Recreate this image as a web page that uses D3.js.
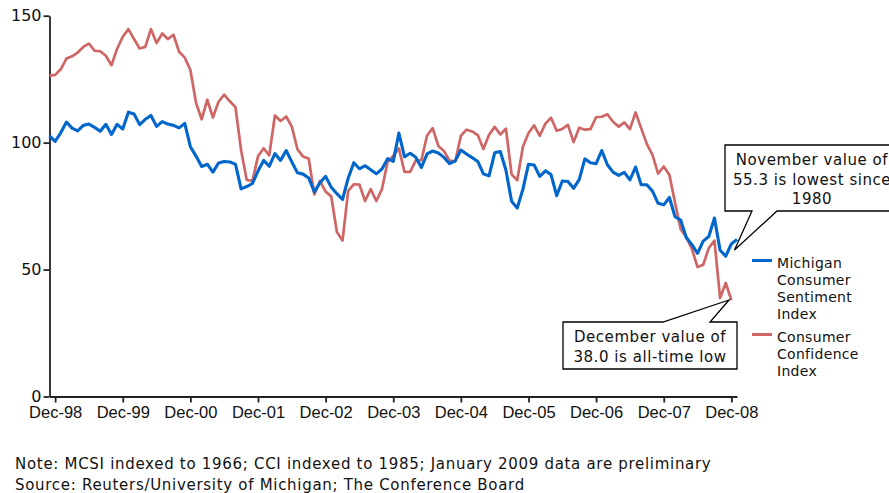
<!DOCTYPE html>
<html>
<head>
<meta charset="utf-8">
<script src="https://cdn.jsdelivr.net/npm/d3@7"></script>
<style>
  body { margin: 0; background: #fff; }
  svg text { fill: #111; }
</style>
</head>
<body>
<div id="chart"></div>
<script>
// monthly values, Nov-98 .. Jan-09 (index 0 = Nov-98)
const mcsi = [
  102.7, 100.5,
  103.9, 108.1, 105.7, 104.6, 106.8, 107.3, 106.0, 104.5, 107.2, 103.2, 107.2, 105.4,
  112.0, 111.3, 107.1, 109.2, 110.7, 106.4, 108.3, 107.3, 106.8, 105.8, 107.6, 98.4,
  94.7, 90.6, 91.5, 88.4, 92.0, 92.6, 92.4, 91.5, 81.8, 82.7, 83.9, 88.8,
  93.0, 90.7, 95.7, 93.0, 96.9, 92.4, 88.1, 87.6, 86.1, 80.6, 84.2, 86.7,
  82.4, 79.9, 77.6, 86.0, 92.1, 89.7, 90.9, 89.3, 87.7, 89.6, 93.7, 92.6,
  103.8, 94.4, 95.8, 94.2, 90.2, 95.6, 96.7, 95.9, 94.2, 91.7, 92.8, 97.1,
  95.5, 94.1, 92.6, 87.7, 86.9, 96.0, 96.5, 89.1, 76.9, 74.2, 81.6, 91.5,
  91.2, 86.7, 88.9, 87.4, 79.1, 84.9, 84.7, 82.0, 85.4, 93.6, 92.1, 91.7,
  96.9, 91.3, 88.4, 87.1, 88.3, 85.3, 90.4, 83.4, 83.4, 80.9, 76.1, 75.5,
  78.4, 70.8, 69.5, 62.6, 59.8, 56.4, 61.2, 63.0, 70.3, 57.6, 55.3, 60.1,
  61.9
];

// Nov-98 .. Dec-08
const cci = [
  126.4, 126.7,
  128.9, 133.1, 134.0, 135.5, 137.7, 139.0, 136.2, 136.0, 134.2, 130.5, 137.0, 141.7,
  144.7, 140.8, 137.1, 137.7, 144.7, 139.2, 143.0, 140.8, 142.5, 135.8, 133.5, 128.6,
  115.7, 109.2, 116.9, 109.9, 116.1, 118.9, 116.3, 114.0, 97.0, 85.3, 84.9, 94.6,
  97.8, 95.0, 110.7, 108.5, 110.3, 106.3, 97.4, 94.5, 93.7, 79.6, 84.9, 80.7,
  78.8, 64.8, 61.4, 81.0, 83.6, 83.5, 77.0, 81.7, 77.0, 81.7, 92.5, 94.8,
  97.7, 88.5, 88.5, 93.0, 93.1, 102.8, 105.7, 98.7, 96.7, 92.9, 92.6, 102.7,
  105.1, 104.4, 103.0, 97.5, 103.1, 106.2, 103.2, 105.5, 87.5, 85.2, 98.3, 103.8,
  106.8, 102.7, 107.5, 109.8, 104.7, 105.4, 107.0, 100.2, 105.9, 105.1, 105.3, 110.0,
  110.2, 111.2, 108.2, 106.3, 108.0, 105.3, 111.9, 105.6, 99.5, 95.2, 87.8, 90.6,
  87.3, 76.4, 65.9, 62.8, 58.1, 51.0, 51.9, 58.5, 61.4, 38.8, 44.7, 38.0
];

const tickLabels = ["Dec-98", "Dec-99", "Dec-00", "Dec-01", "Dec-02", "Dec-03",
                    "Dec-04", "Dec-05", "Dec-06", "Dec-07", "Dec-08"];
const tickIndex = tickLabels.map((d, i) => 1 + i * 12);  // Dec of each year
const yTicks = [0, 50, 100, 150];

const seriesNames = [
  ["Michigan", "Consumer", "Sentiment", "Index"],
  ["Consumer", "Confidence", "Index"]
];
const notes = [
  "Note: MCSI indexed to 1966; CCI indexed to 1985; January 2009 data are preliminary",
  "Source: Reuters/University of Michigan; The Conference Board"
];

const width = 889, height = 493;
const blue = "#0066cc", red = "#cf6666";

const svg = d3.select("#chart").append("svg")
  .attr("width", width).attr("height", height)
  .style("font-family", "'DejaVu Sans', Verdana, sans-serif");

const x = d3.scaleLinear().domain([0, 122]).range([49.5, 737]);
const y = d3.scaleLinear().domain([0, 150]).range([396.5, 15.7]);

// axes
const yAxis = svg.append("g").attr("transform", "translate(49.5,0)")
  .call(d3.axisLeft(y).tickValues(yTicks).tickSize(6).tickSizeOuter(0).tickPadding(2));
yAxis.selectAll("text").style("font-size", "16px").style("font-family", "'DejaVu Sans', sans-serif");

const xAxis = svg.append("g").attr("transform", "translate(0,396.5)")
  .call(d3.axisBottom(x).tickValues(tickIndex).tickFormat((d, i) => tickLabels[i])
    .tickSize(6).tickSizeOuter(0).tickPadding(4));
xAxis.selectAll("text").style("font-size", "16.5px")
  .style("font-family", "'Liberation Sans', Arial, sans-serif");

svg.selectAll(".domain, .tick line").attr("stroke", "#222").attr("stroke-width", 1.8);
svg.selectAll(".tick text").attr("fill", "#111");

// lines
const line = d3.line().x((d, i) => x(i)).y(d => y(d));
svg.append("path").datum(cci)
  .attr("fill", "none").attr("stroke", red).attr("stroke-width", 2.7)
  .attr("stroke-linejoin", "round").attr("d", line);
svg.append("path").datum(mcsi)
  .attr("fill", "none").attr("stroke", blue).attr("stroke-width", 3.1)
  .attr("stroke-linejoin", "round").attr("d", line);

// legend
const legend = svg.append("g").style("font-size", "14px").style("letter-spacing", "0.3px");
[[blue, 260.5, 267.5], [red, 334.5, 341.5]].forEach(([c, ly, ty], k) => {
  legend.append("line").attr("x1", 752).attr("x2", 772).attr("y1", ly).attr("y2", ly)
    .attr("stroke", c).attr("stroke-width", 3);
  seriesNames[k].forEach((t, j) => {
    legend.append("text").attr("x", 777).attr("y", ty + j * 17.2).text(t);
  });
});

// callouts
function callout(box, wedge, lines, cx, baseY) {
  const [x0, y0, x1, y1] = box;
  const p = d3.path();
  if (wedge.side === "bottom") {
    p.moveTo(x0, y0); p.lineTo(x1, y0); p.lineTo(x1, y1);
    p.lineTo(wedge.b, y1); p.lineTo(wedge.tx, wedge.ty); p.lineTo(wedge.a, y1);
    p.lineTo(x0, y1); p.closePath();
  } else {
    p.moveTo(x0, y0); p.lineTo(wedge.a, y0); p.lineTo(wedge.tx, wedge.ty);
    p.lineTo(wedge.b, y0); p.lineTo(x1, y0); p.lineTo(x1, y1);
    p.lineTo(x0, y1); p.closePath();
  }
  svg.append("path").attr("d", p.toString())
    .attr("fill", "#fff").attr("stroke", "#000").attr("stroke-width", 1.3);
  lines.forEach((t, j) => {
    svg.append("text").attr("x", cx).attr("y", baseY + j * 19.5)
      .attr("text-anchor", "middle").style("font-size", "15px")
      .style("letter-spacing", "0.55px").text(t);
  });
}

callout([725, 145, 902, 211], { side: "bottom", a: 752, b: 777, tx: 734.5, ty: 250 },
  ["November value of", "55.3 is lowest since", "1980"], 812, 165);
callout([563, 322, 737, 369], { side: "top", a: 663, b: 710, tx: 729, ty: 300 },
  ["December value of", "38.0 is all-time low"], 650, 342);

// footnotes
notes.forEach((t, j) => {
  svg.append("text").attr("x", 15).attr("y", 469 + j * 20.5)
    .style("font-size", "15px").style("letter-spacing", "0.7px").text(t);
});
</script>
</body>
</html>
